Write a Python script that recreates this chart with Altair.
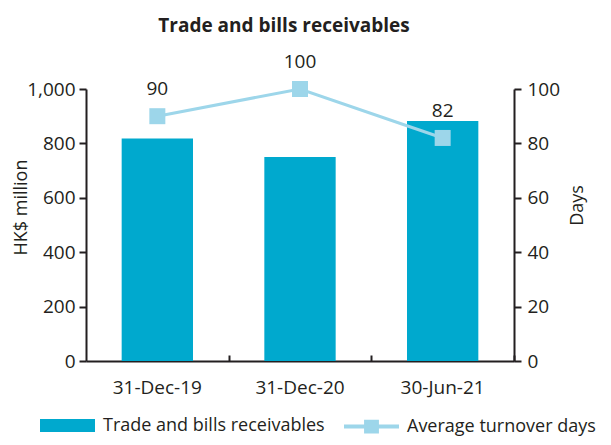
import altair as alt
import pandas as pd

# ---- data ----
dates = ["31-Dec-19", "31-Dec-20", "30-Jun-21"]
receivables = [818, 750, 882]
turnover_days = [90, 100, 82]
bar_series = "Trade and bills receivables"
line_series = "Average turnover days"

df = pd.DataFrame({
    "date": dates,
    "receivables": receivables,
    "days": turnover_days,
    "bar_series": [bar_series] * len(dates),
    "line_series": [line_series] * len(dates),
})

FONT = "Open Sans"
TXT = "#231f20"
BAR = "#00a9ce"
LINE = "#9dd6ea"
FS = 19

W, H = 428, 272
STEP = W / 3

x_scale = alt.Scale(domain=dates, paddingInner=0.5, paddingOuter=0.25)

x_main = alt.X(
    "date:N", sort=dates, scale=x_scale, title=None,
    axis=alt.Axis(orient="bottom", ticks=False, domain=True, domainColor=TXT,
                  domainWidth=2, labelAngle=0, labelFont=FONT, labelFontSize=FS,
                  labelColor=TXT, labelPadding=17, grid=False),
)
x_ticks = alt.X(
    "date:N", sort=dates, scale=x_scale, title=None,
    axis=alt.Axis(orient="bottom", offset=-6, labels=False, domain=False,
                  ticks=True, tickSize=6, tickWidth=2, tickColor=TXT,
                  tickOffset=STEP / 2, grid=False),
)

bar_legend = alt.Legend(
    title=None, orient="none", legendX=-46, legendY=309,
    symbolType="M-1,-0.236L1,-0.236L1,0.236L-1,0.236Z",
    symbolSize=3025, symbolStrokeWidth=0, symbolOpacity=1,
    labelFont=FONT, labelFontSize=18, labelColor=TXT, labelOffset=8,
    labelLimit=0, padding=0,
)
line_legend = alt.Legend(
    title=None, orient="none", legendX=258, legendY=310,
    symbolType="M-1,-0.07L1,-0.07L1,0.07L-1,0.07Z M-0.27,-0.25L0.27,-0.25L0.27,0.25L-0.27,0.25Z",
    symbolSize=3025, symbolStrokeWidth=0, symbolOpacity=1, symbolFillColor=LINE,
    labelFont=FONT, labelFontSize=18, labelColor=TXT, labelOffset=8,
    labelLimit=0, padding=0,
)

base = alt.Chart(df)

bars = base.mark_bar().encode(
    x=x_main,
    y=alt.Y("receivables:Q", scale=alt.Scale(domain=[0, 1000], nice=False),
            axis=alt.Axis(orient="left", values=[0, 200, 400, 600, 800, 1000],
                          format=",d", tickSize=7, tickWidth=2, tickColor=TXT,
                          domainWidth=2, domainColor=TXT, grid=False,
                          labelFont=FONT, labelFontSize=FS, labelColor=TXT,
                          labelPadding=4, title="HK$ million", titleFont=FONT,
                          titleFontSize=18, titleFontWeight="normal",
                          titleColor=TXT, titleX=-65, titleY=118,
                          titleBaseline="middle", titleAlign="center",
                          titleAngle=270)),
    color=alt.Color("bar_series:N", scale=alt.Scale(domain=[bar_series], range=[BAR]),
                    legend=bar_legend),
)

y_days = alt.Y("days:Q", scale=alt.Scale(domain=[0, 100], nice=False),
               axis=alt.Axis(orient="right", values=[0, 20, 40, 60, 80, 100],
                             tickSize=7, tickWidth=2, tickColor=TXT,
                             domainWidth=2, domainColor=TXT, grid=False,
                             labelFont=FONT, labelFontSize=FS, labelColor=TXT,
                             labelPadding=6, title="Days", titleFont=FONT,
                             titleFontSize=18, titleFontWeight="normal",
                             titleColor=TXT, titleAngle=270, titleX=63,
                             titleY=116, titleBaseline="middle",
                             titleAlign="center"))

line = base.mark_line(color=LINE, strokeWidth=3).encode(x=x_ticks, y=y_days)
points = base.mark_square(size=256, opacity=1, filled=True).encode(
    x=x_ticks, y=y_days,
    color=alt.Color("line_series:N", scale=alt.Scale(domain=[line_series], range=[LINE]),
                    legend=line_legend),
)
labels = base.mark_text(dy=-27, font=FONT, fontSize=FS, color=TXT).encode(
    x=x_ticks, y=y_days, text=alt.Text("days:Q"),
)

right = alt.layer(line, points, labels)

chart = alt.layer(bars, right).resolve_scale(
    y="independent", color="independent"
).resolve_axis(x="independent").resolve_legend(color="independent").properties(
    width=W, height=H,
    title=alt.TitleParams("Trade and bills receivables", font=FONT, fontSize=19,
                          fontWeight="bold", color=TXT, anchor="middle", dx=-16,
                          offset=17),
    autosize=alt.AutoSizeParams(type="none"),
    padding={"left": 78, "top": 81, "right": 89, "bottom": 76},
).configure_view(stroke=None)

chart.save("out.html", embed_options={"renderer": "svg", "actions": False})
